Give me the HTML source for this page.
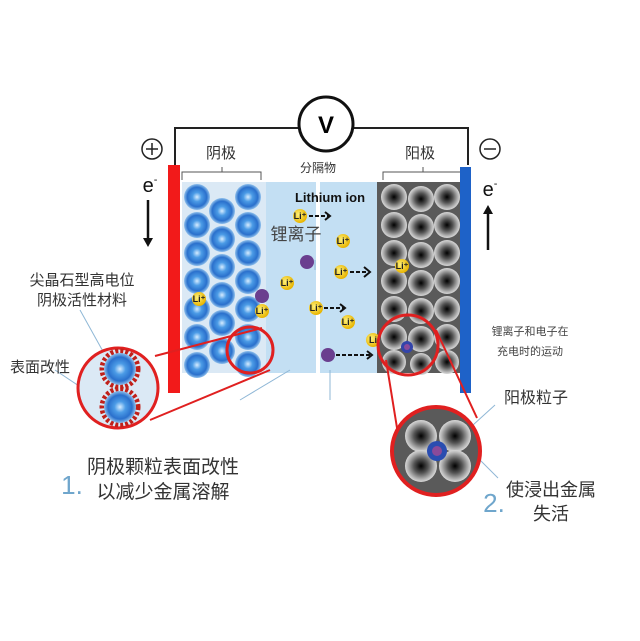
<!DOCTYPE html>
<html><head><meta charset="utf-8"><style>
html,body{margin:0;padding:0;background:#fff;}
svg{display:block;font-family:"Liberation Sans","Noto Sans CJK SC",sans-serif;}
</style></head><body>
<svg width="640" height="641" viewBox="0 0 640 641" xmlns="http://www.w3.org/2000/svg">
<defs>
<radialGradient id="bs" cx="50%" cy="50%" r="50%">
<stop offset="0" stop-color="#d6ecff"/><stop offset="0.35" stop-color="#4b9be6"/><stop offset="0.75" stop-color="#2a70cc"/><stop offset="1" stop-color="#8fc0ec"/></radialGradient>
<radialGradient id="ks" cx="50%" cy="50%" r="50%">
<stop offset="0" stop-color="#000"/><stop offset="0.45" stop-color="#555"/><stop offset="0.85" stop-color="#b8b8b8"/><stop offset="1" stop-color="#d8d8d8"/></radialGradient>
<radialGradient id="li" cx="40%" cy="40%" r="60%"><stop offset="0" stop-color="#fff27a"/><stop offset="1" stop-color="#e8b400"/></radialGradient>
</defs>
<polyline points="175,165 175,128 468,128 468,165" fill="none" stroke="#222" stroke-width="2"/>
<circle cx="326" cy="124" r="27" fill="#fff" stroke="#111" stroke-width="3"/>
<text x="326" y="133" font-size="24" font-weight="bold" text-anchor="middle">V</text>
<circle cx="152" cy="149" r="10" fill="#fff" stroke="#222" stroke-width="1.5"/>
<path d="M146 149H158M152 143V155" stroke="#222" stroke-width="1.5"/>
<circle cx="490" cy="149" r="10" fill="#fff" stroke="#222" stroke-width="1.5"/>
<path d="M484 149H496" stroke="#222" stroke-width="1.5"/>
<text x="221" y="158" font-size="15" text-anchor="middle" fill="#333">阴极</text>
<text x="420" y="158" font-size="15" text-anchor="middle" fill="#333">阳极</text>
<path d="M182 180 v-8 h40 v-5 v5 h39 v8" fill="none" stroke="#555"/>
<path d="M383 180 v-8 h40 v-5 v5 h38 v8" fill="none" stroke="#555"/>
<text x="318" y="172" font-size="12" text-anchor="middle" fill="#333">分隔物</text>
<rect x="182" y="182" width="195" height="191" fill="#c3dff3"/>
<rect x="182" y="182" width="84" height="191" fill="#dbe9f5"/>
<rect x="316" y="182" width="4" height="191" fill="#fff"/>
<rect x="377" y="182" width="83" height="191" fill="#5a5a5a"/>
<rect x="168" y="165" width="12" height="228" fill="#f21a1a"/>
<rect x="460" y="167" width="11" height="226" fill="#1e62c8"/>
<g fill="url(#bs)">
<circle cx="197" cy="197" r="13"/><circle cx="197" cy="225" r="13"/><circle cx="197" cy="253" r="13"/><circle cx="197" cy="281" r="13"/><circle cx="197" cy="309" r="13"/><circle cx="197" cy="337" r="13"/><circle cx="197" cy="365" r="13"/>
<circle cx="222" cy="211" r="13"/><circle cx="222" cy="239" r="13"/><circle cx="222" cy="267" r="13"/><circle cx="222" cy="295" r="13"/><circle cx="222" cy="323" r="13"/><circle cx="222" cy="351" r="13"/>
<circle cx="248" cy="197" r="13"/><circle cx="248" cy="225" r="13"/><circle cx="248" cy="253" r="13"/><circle cx="248" cy="281" r="13"/><circle cx="248" cy="309" r="13"/><circle cx="248" cy="337" r="13"/><circle cx="248" cy="364" r="13"/>
</g>
<g fill="url(#ks)">
<circle cx="394" cy="197" r="13"/><circle cx="394" cy="225" r="13"/><circle cx="394" cy="253" r="13"/><circle cx="394" cy="281" r="13"/><circle cx="394" cy="309" r="13"/><circle cx="394" cy="337" r="13"/><circle cx="394" cy="362" r="12"/>
<circle cx="421" cy="199" r="13"/><circle cx="421" cy="227" r="13"/><circle cx="421" cy="255" r="13"/><circle cx="421" cy="283" r="13"/><circle cx="421" cy="311" r="13"/><circle cx="421" cy="339" r="13"/><circle cx="421" cy="364" r="11"/>
<circle cx="447" cy="197" r="13"/><circle cx="447" cy="225" r="13"/><circle cx="447" cy="253" r="13"/><circle cx="447" cy="281" r="13"/><circle cx="447" cy="309" r="13"/><circle cx="447" cy="337" r="13"/><circle cx="447" cy="362" r="12"/>
</g>
<text x="330" y="202" font-size="13" font-weight="bold" text-anchor="middle" fill="#111">Lithium ion</text>
<text x="296" y="240" font-size="17" text-anchor="middle" fill="#444">锂离子</text>
<g font-size="9" font-weight="bold" fill="#222" text-anchor="middle">
<circle cx="300" cy="216" r="7" fill="url(#li)"/><text x="300" y="219">Li⁺</text>
<circle cx="343" cy="241" r="7" fill="url(#li)"/><text x="343" y="244">Li⁺</text>
<circle cx="341" cy="272" r="7" fill="url(#li)"/><text x="341" y="275">Li⁺</text>
<circle cx="287" cy="283" r="7" fill="url(#li)"/><text x="287" y="286">Li⁺</text>
<circle cx="316" cy="308" r="7" fill="url(#li)"/><text x="316" y="311">Li⁺</text>
<circle cx="348" cy="322" r="7" fill="url(#li)"/><text x="348" y="325">Li⁺</text>
<circle cx="402" cy="266" r="7" fill="url(#li)"/><text x="402" y="269">Li⁺</text>
<circle cx="199" cy="299" r="7" fill="url(#li)"/><text x="199" y="302">Li⁺</text>
<circle cx="262" cy="311" r="7" fill="url(#li)"/><text x="262" y="314">Li⁺</text>
<circle cx="373" cy="340" r="7" fill="url(#li)"/><text x="373" y="343">Li</text>
</g>
<g fill="#6a3f8f"><circle cx="307" cy="262" r="7"/><circle cx="262" cy="296" r="7"/><circle cx="328" cy="355" r="7"/></g>
<g stroke="#111" stroke-width="2" fill="none" stroke-dasharray="4,2">
<path d="M309 216h20"/><path d="M350 272h18"/><path d="M324 308h20"/><path d="M336 355h34"/>
</g>
<g stroke="#111" stroke-width="2" fill="none">
<path d="M325 212l5 4-5 4"/><path d="M364 267l6 5-6 5"/><path d="M340 304l5 4-5 4"/><path d="M367 351l5 4-5 4"/>
</g>
<text x="150" y="192" font-size="20" text-anchor="middle" fill="#111">e<tspan font-size="11" dy="-9">-</tspan></text>
<path d="M148 200v40" stroke="#111" stroke-width="2.5"/><path d="M143 238l5 9 5-9z" fill="#111"/>
<text x="490" y="196" font-size="20" text-anchor="middle" fill="#111">e<tspan font-size="11" dy="-9">-</tspan></text>
<path d="M488 212v38" stroke="#111" stroke-width="2.5"/><path d="M483 214l5-9 5 9z" fill="#111"/>
<g stroke="#8fb7d6" stroke-width="1"><path d="M240 400l50-30"/><path d="M330 370v30"/><path d="M315 260v10"/>
<path d="M80 310l25 45"/><path d="M55 370l45 30"/><path d="M495 405l-22 20"/><path d="M480 460l18 18"/></g>
<path d="M155 356L262 328M150 420L270 370" stroke="#e02020" stroke-width="2"/>
<circle cx="250" cy="350" r="23" fill="none" stroke="#e02020" stroke-width="3"/>
<circle cx="118" cy="388" r="40" fill="#dbe9f5" stroke="#e02020" stroke-width="3"/>
<g fill="none" stroke="#c0201a" stroke-width="5" stroke-dasharray="3,2"><circle cx="120" cy="369" r="18"/><circle cx="120" cy="407" r="18"/></g>
<g fill="url(#bs)"><circle cx="120" cy="369" r="16"/><circle cx="120" cy="407" r="16"/></g>
<path d="M386 360L398 434M436 330L477 418" stroke="#e02020" stroke-width="2"/>
<circle cx="408" cy="345" r="30" fill="none" stroke="#e02020" stroke-width="3"/>
<circle cx="407" cy="347" r="6" fill="#3344aa"/><circle cx="407" cy="347" r="3" fill="#8a4a9a"/>
<circle cx="436" cy="451" r="44" fill="#5a5a5a" stroke="#e02020" stroke-width="4"/>
<g fill="url(#ks)"><circle cx="421" cy="436" r="16"/><circle cx="455" cy="436" r="16"/><circle cx="421" cy="466" r="16"/><circle cx="455" cy="466" r="16"/></g>
<circle cx="437" cy="451" r="10" fill="#2a4db0"/><circle cx="437" cy="451" r="5" fill="#8a4a9a"/>
<text x="82" y="285" font-size="15" text-anchor="middle" fill="#333">尖晶石型高电位</text>
<text x="82" y="305" font-size="15" text-anchor="middle" fill="#333">阴极活性材料</text>
<text x="40" y="372" font-size="15" text-anchor="middle" fill="#333">表面改性</text>
<text x="72" y="494" font-size="26" text-anchor="middle" fill="#6fa6cc">1.</text>
<text x="163" y="473" font-size="19" text-anchor="middle" fill="#333">阴极颗粒表面改性</text>
<text x="163" y="498" font-size="19" text-anchor="middle" fill="#333">以减少金属溶解</text>
<text x="530" y="335" font-size="11" text-anchor="middle" fill="#444">锂离子和电子在</text>
<text x="530" y="355" font-size="11" text-anchor="middle" fill="#444">充电时的运动</text>
<text x="536" y="403" font-size="16" text-anchor="middle" fill="#333">阳极粒子</text>
<text x="494" y="512" font-size="26" text-anchor="middle" fill="#6fa6cc">2.</text>
<text x="551" y="496" font-size="18" text-anchor="middle" fill="#333">使浸出金属</text>
<text x="551" y="520" font-size="18" text-anchor="middle" fill="#333">失活</text>
</svg>
</body></html>
